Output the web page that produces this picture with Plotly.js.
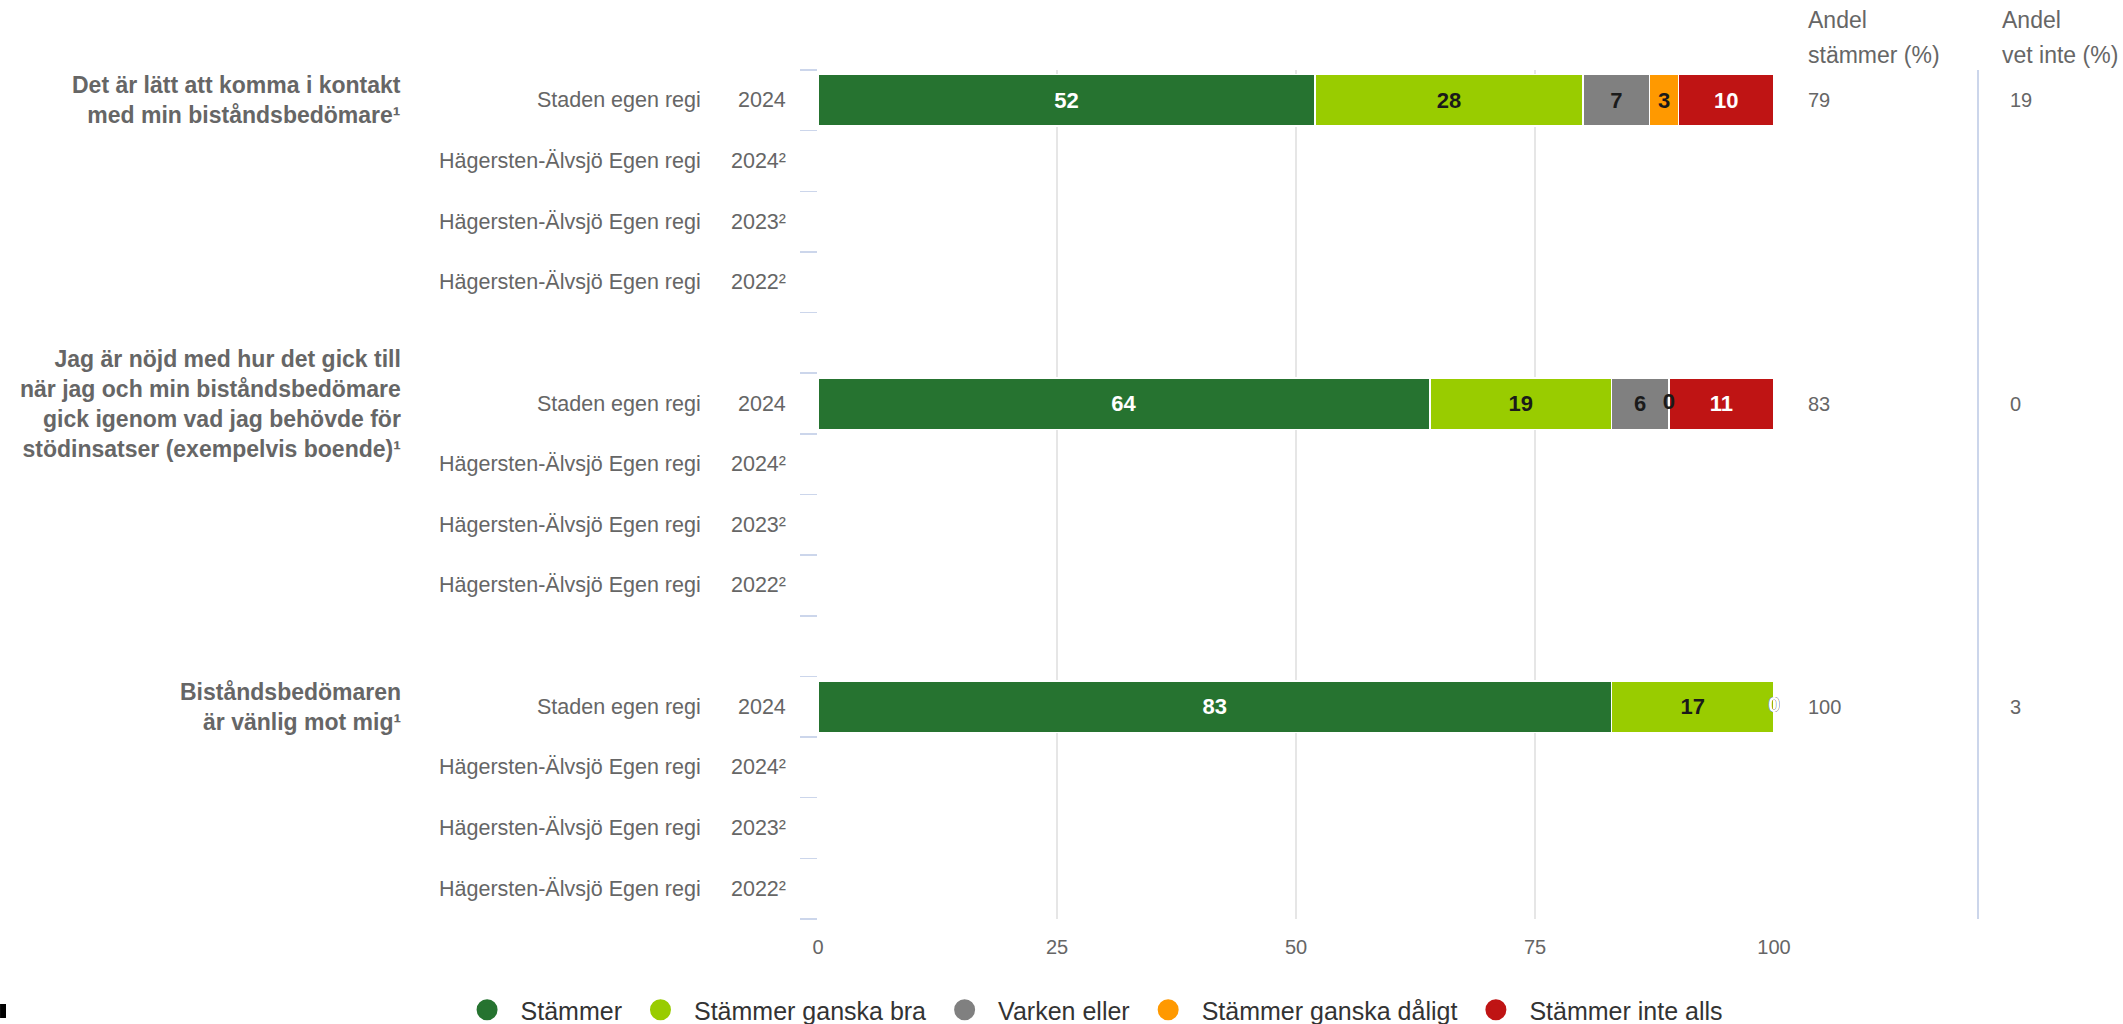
<!DOCTYPE html>
<html>
<head>
<meta charset="utf-8">
<script src="https://cdn.plot.ly/plotly-3.0.1.min.js"></script>
<style>html,body{margin:0;padding:0;background:#fff;}#chart{width:2123px;height:1024px;}</style>
</head>
<body>
<div id="chart"></div>
<script>
// ---- data ----
const questions = [
  "Det är lätt att komma i kontakt<br>med min biståndsbedömare¹",
  "Jag är nöjd med hur det gick till<br>när jag och min biståndsbedömare<br>gick igenom vad jag behövde för<br>stödinsatser (exempelvis boende)¹",
  "Biståndsbedömaren<br>är vänlig mot mig¹"
];
const rowLabels = ["Staden egen regi", "Hägersten-Älvsjö Egen regi", "Hägersten-Älvsjö Egen regi", "Hägersten-Älvsjö Egen regi"];
const rowYears = ["2024", "2024²", "2023²", "2022²"];
const seriesNames = ["Stämmer", "Stämmer ganska bra", "Varken eller", "Stämmer ganska dåligt", "Stämmer inte alls"];
const stammer = [52, 64, 83];
const ganskaBra = [28, 19, 17];
const varkenEller = [7, 6, 0];
const ganskaDaligt = [3, 0, 0];
const inteAlls = [10, 11, 0];
const andelStammer = [79, 83, 100];
const andelVetInte = [19, 0, 3];
const xTicks = [0, 25, 50, 75, 100];

// ---- styles ----
const FONT = "Liberation Sans, Arial, sans-serif";
const colors = ["#267330", "#99cc00", "#808080", "#ff9900", "#bf1414"];
const labelColors = ["#ffffff", "#1a1a1a", "#1a1a1a", "#1a1a1a", "#ffffff"];
const seriesValues = [stammer, ganskaBra, varkenEller, ganskaDaligt, inteAlls];
const ROWS_PER_GROUP = 5;               // 4 labelled rows + 1 spacer row
const groupRow = questions.map((q, g) => g * ROWS_PER_GROUP);
const lastRow = groupRow[groupRow.length - 1] + rowLabels.length - 1;
const LABEL_SIZE = 22;

const traces = [];
seriesValues.forEach((vals, i) => {
  traces.push({
    type: "bar",
    orientation: "h",
    name: seriesNames[i],
    x: vals,
    y: groupRow,
    width: 0.85,
    marker: {color: colors[i], line: {color: "#ffffff", width: 1.5}},
    text: vals.map(v => v === 0 ? "" : String(v)),
    texttemplate: "%{text}",
    textposition: "inside",
    insidetextanchor: "middle",
    constraintext: "none",
    insidetextfont: {family: FONT, size: LABEL_SIZE, color: labelColors[i], weight: "bold"},
    showlegend: false,
    hoverinfo: "skip"
  });
});

// labels of zero-width segments, drawn on top at their stack position
const zx = [], zy = [], zt = [], zc = [];
seriesValues.forEach((vals, i) => {
  vals.forEach((v, g) => {
    if (v !== 0) return;
    let base = 0;
    for (let k = 0; k < i; k++) base += seriesValues[k][g];
    zx.push(base + v / 2); zy.push(groupRow[g]); zt.push(String(v)); zc.push(labelColors[i]);
  });
});
traces.push({
  type: "scatter", mode: "text", x: zx, y: zy, text: zt,
  textposition: "middle center", cliponaxis: false,
  textfont: {family: FONT, size: LABEL_SIZE, color: zc, weight: "bold"},
  showlegend: false, hoverinfo: "skip"
});

// legend entries (circles)
seriesNames.forEach((n, i) => {
  traces.push({
    type: "scatter", mode: "markers", name: n,
    x: [null], y: [null],
    marker: {color: colors[i], size: 16, symbol: "circle", line: {color: colors[i], width: 5}},
    showlegend: true, hoverinfo: "skip"
  });
});

const annotations = [];
const gray = "#666666";
questions.forEach((q, g) => {
  annotations.push({
    xref: "paper", yref: "y", x: -0.4341, y: groupRow[g], xanchor: "right", yanchor: "middle",
    align: "right", text: "<b>" + q + "</b>", showarrow: false,
    font: {family: FONT, size: 23, color: gray}
  });
  rowLabels.forEach((lab, r) => {
    const yy = groupRow[g] + r;
    annotations.push({
      xref: "paper", yref: "y", x: -0.1203, y: yy, xanchor: "right", yanchor: "middle",
      text: lab, showarrow: false, font: {family: FONT, size: 21.5, color: gray}
    });
    annotations.push({
      xref: "paper", yref: "y", x: -0.0314, y: yy, xanchor: "right", yanchor: "middle",
      text: rowYears[r], showarrow: false, font: {family: FONT, size: 21.5, color: gray}
    });
  });
  annotations.push({
    xref: "paper", yref: "y", x: 1.0335, y: groupRow[g], xanchor: "left", yanchor: "middle",
    text: String(andelStammer[g]), showarrow: false, font: {family: FONT, size: 20, color: gray}
  });
  annotations.push({
    xref: "paper", yref: "y", x: 1.2447, y: groupRow[g], xanchor: "left", yanchor: "middle",
    text: String(andelVetInte[g]), showarrow: false, font: {family: FONT, size: 20, color: gray}
  });
});
[["Andel", "stämmer (%)", 1.0335], ["Andel", "vet inte (%)", 1.2364]].forEach(h => {
  annotations.push({xref: "paper", yref: "paper", x: h[2], y: 1.0589, xanchor: "left", yanchor: "middle",
    text: h[0], showarrow: false, font: {family: FONT, size: 23, color: gray}});
  annotations.push({xref: "paper", yref: "paper", x: h[2], y: 1.0171, xanchor: "left", yanchor: "middle",
    text: h[1], showarrow: false, font: {family: FONT, size: 23, color: gray}});
});

const boundaries = [];
for (let k = -0.5; k <= lastRow + 0.5; k += 1) boundaries.push(k);

const layout = {
  width: 2123, height: 1024,
  margin: {l: 818, r: 349, t: 70, b: 105, pad: 0, autoexpand: false},
  paper_bgcolor: "#ffffff", plot_bgcolor: "#ffffff",
  barmode: "stack",
  font: {family: FONT, color: gray},
  xaxis: {
    range: [0, 100], tickvals: xTicks, ticktext: xTicks.map(String),
    showgrid: true, gridcolor: "#e6e6e6", gridwidth: 1.5,
    zeroline: false, showline: false, ticks: "",
    tickfont: {family: FONT, size: 20, color: gray}, ticklabelstandoff: 14, fixedrange: true
  },
  yaxis: {
    range: [lastRow + 0.5, -0.5], tickvals: boundaries, ticks: "outside", ticklen: 17,
    tickcolor: "#ccd6eb", tickwidth: 1.5, showticklabels: false,
    showgrid: false, zeroline: false, showline: false, fixedrange: true
  },
  showlegend: true,
  legend: {
    orientation: "h", xref: "paper", yref: "paper",
    x: -0.3812, xanchor: "left", y: -0.1072, yanchor: "middle",
    font: {family: FONT, size: 25, color: "#333333"}, itemwidth: 57,
    bgcolor: "rgba(0,0,0,0)", traceorder: "normal"
  },
  annotations: annotations,
  shapes: [
    {type: "line", xref: "paper", yref: "paper", x0: 1.2134, x1: 1.2134, y0: 0, y1: 1,
     line: {color: "#ccd6eb", width: 2}},
    {type: "rect", xref: "paper", yref: "paper", x0: -0.8556, x1: -0.8494, y0: -0.1166, y1: -0.1001,
     fillcolor: "#000000", line: {width: 0}}
  ],
  hovermode: false
};

Plotly.newPlot("chart", traces, layout, {displayModeBar: false, staticPlot: true});
</script>
</body>
</html>
